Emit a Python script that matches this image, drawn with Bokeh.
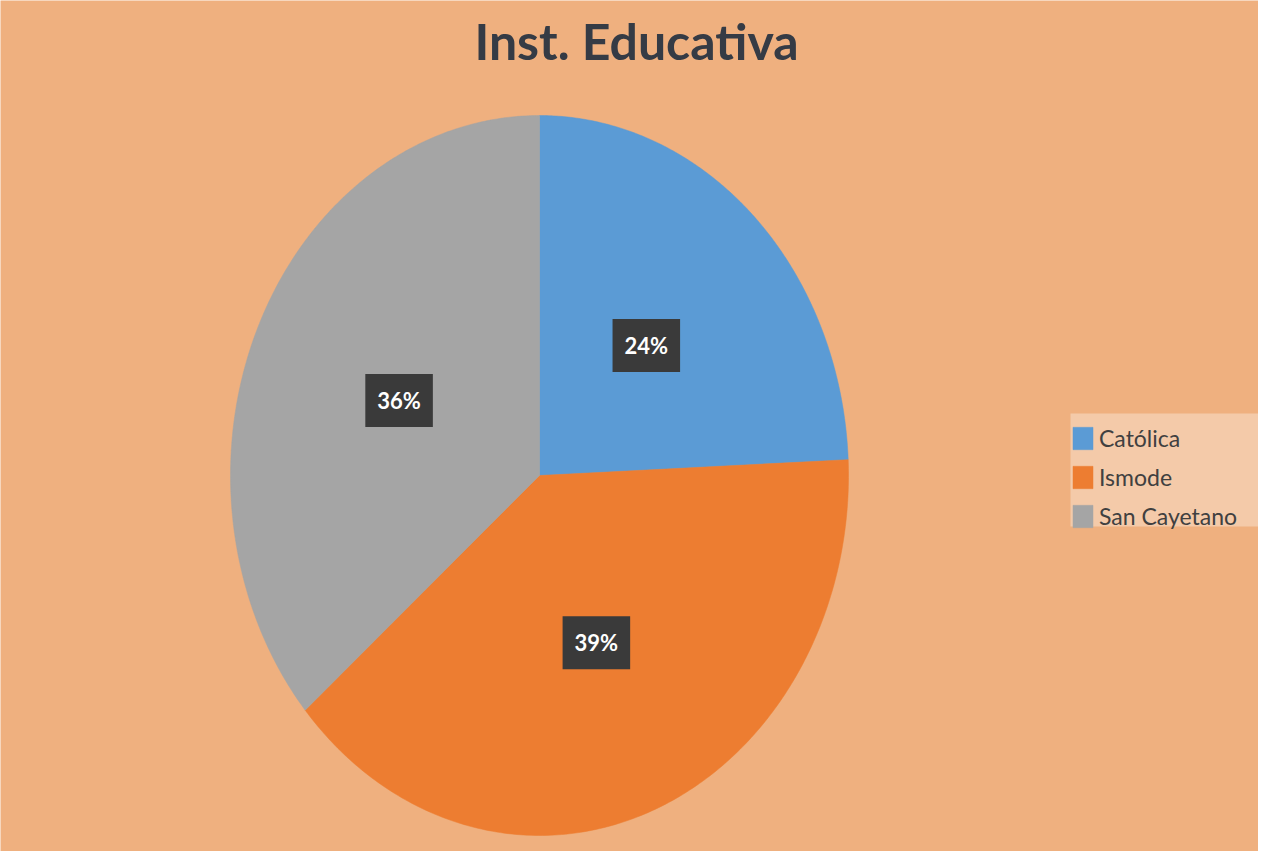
import numpy as np
from bokeh.plotting import figure
from bokeh.models import Range1d, Legend, LegendItem, Label, ColumnDataSource, BoxAnnotation
from bokeh.core.properties import value
from bokeh.embed import file_html
from bokeh.resources import INLINE

# ---- data ----
categories = ["Católica", "Ismode", "San Cayetano"]
shares = [24.3, 39.4, 36.3]
colors = ["#5B9BD5", "#ED7D31", "#A5A5A5"]
title_text = "Inst. Educativa"

# ---- layout (pixels) ----
W, H = 1258, 851
RX, RY = 309, 360          # pie radii in px (stretched pie)
CX, CY = 539, 475          # pie centre from frame left / top, px
BG = "#EFB07F"

x0, x1 = -CX / RX, (W - CX) / RX
y1, y0 = CY / RY, -(H - CY) / RY

p = figure(width=W, height=H, x_range=Range1d(x0, x1), y_range=Range1d(y0, y1),
           output_backend="svg", toolbar_location=None, min_border=0,
           x_axis_location=None, y_axis_location=None,
           background_fill_color=BG, border_fill_color=BG, outline_line_color=None)
p.grid.visible = False

vals = np.array(shares, dtype=float)
fr = vals / vals.sum()
cum = np.concatenate([[0], np.cumsum(fr)])

items = []
lx, ly, labels = [], [], []
for i, cat in enumerate(categories):
    a0, a1 = cum[i], cum[i + 1]
    t = np.linspace(a0, a1, 200) * 2 * np.pi
    xs = np.concatenate([[0], np.sin(t), [0]])
    ys = np.concatenate([[0], np.cos(t), [0]])
    r = p.patch(xs, ys, fill_color=colors[i], line_color=colors[i], line_width=0.5)
    items.append(LegendItem(label=cat, renderers=[r]))
    m = (a0 + a1) / 2 * 2 * np.pi
    lx.append(0.5 * np.sin(m))
    ly.append(0.5 * np.cos(m))
    labels.append(f"{round(vals[i] / vals.sum() * 100)}%")

src = ColumnDataSource(dict(x=lx, y=ly, text=labels))
p.text(x="x", y="y", text="text", source=src, text_align="center", text_baseline="middle",
       text_color="white", text_font=value("Lato"), text_font_style="bold",
       text_font_size="22px", background_fill_color="#3A3A3A",
       padding=dict(left=12, right=12, top=13, bottom=13))

p.add_layout(Label(x=636, y=811, x_units="screen", y_units="screen", text=title_text,
                   text_align="center", text_baseline="middle", text_font="Lato",
                   text_font_style="bold", text_font_size="50px", text_color="#353B45"))

# light legend panel
p.add_layout(BoxAnnotation(left=1070, right=1258, bottom=H - 526, top=H - 413,
                           left_units="screen", right_units="screen",
                           top_units="screen", bottom_units="screen",
                           fill_color="white", fill_alpha=0.33, line_color=None))

legend = Legend(items=items, location=(1070, H - 530), orientation="vertical",
                label_text_font="Lato", label_text_font_size="23px", label_text_color="#404040",
                glyph_width=25, glyph_height=28, label_height=28, label_standoff=4,
                spacing=11, padding=0, margin=0,
                background_fill_alpha=0, border_line_color=None)
p.add_layout(legend, "center")

open("out.html", "w").write(file_html(p, INLINE))
